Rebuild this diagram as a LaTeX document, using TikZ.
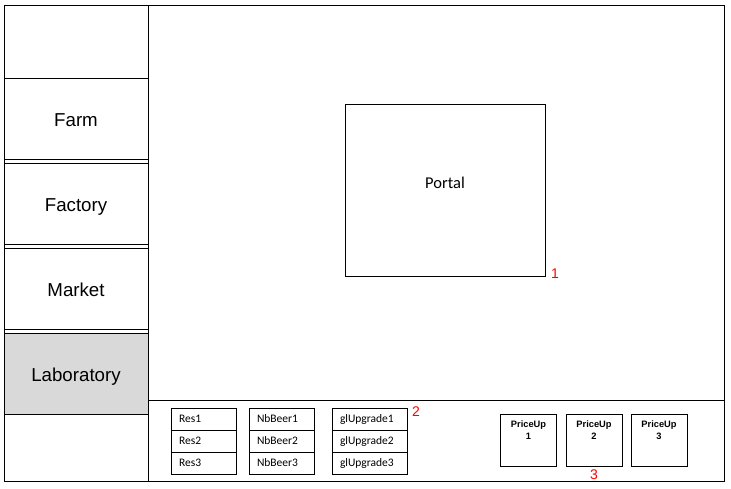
\documentclass[tikz,border=0pt]{standalone}
\usepackage{fontspec}
\setmainfont{Liberation Sans}
\newfontfamily\carlito{Carlito}
\usetikzlibrary{positioning}
\definecolor{labgray}{RGB}{217,217,217}

\begin{document}
\begin{tikzpicture}[x=1pt, y=-1pt, line width=1pt,
    cell/.style = {draw, minimum width=144pt, minimum height=81pt, inner sep=0pt, outer sep=0pt, text height=16pt, text depth=0pt, font=\fontsize{18.7}{22}\selectfont},
    field/.style = {draw, minimum height=22pt, inner xsep=8pt, inner ysep=0pt, align=left, font=\carlito\fontsize{11.5}{13}\selectfont},
    priceup/.style = {draw, minimum width=56pt, minimum height=52pt, inner sep=0pt},
    putext/.style = {anchor=north, yshift=-7pt, align=center, inner sep=0pt, font=\bfseries\fontsize{9.3}{12}\selectfont},
    num/.style = {text=red, inner sep=0pt, font=\fontsize{14}{16}\selectfont}]
    \useasboundingbox (0,0) rectangle (731,488);
    % frame
    \draw (4,5) rectangle (724,481);
    \draw (148,5) -- (148,481);
    \draw (148,400) -- (724,400);
    % menu
    \node[cell] (farm) at (76,118.5) {Farm};
    \node[cell, below=4pt of farm] (factory) {Factory};
    \node[cell, below=4pt of factory] (market) {Market};
    \node[cell, fill=labgray, below=4pt of market] (lab) {Laboratory};
    % portal
    \node[draw, minimum width=200pt, minimum height=172pt, text depth=14pt, font=\carlito\fontsize{16.5}{18}\selectfont] (portal) at (445,190) {Portal};
    \node[num, anchor=south west] (num1) at ([xshift=5pt, yshift=-2pt]portal.south east) {1};
    % resources
    \foreach \i in {1,2,3} {
        \node[field, text width=49pt] (res\i) at (203.5,{397+22*\i}) {Res\i};
        \node[field, text width=49pt] (beer\i) at (281.5,{397+22*\i}) {NbBeer\i};
        \node[field, text width=59pt] (upg\i) at (369.5,{398+21.7*\i}) {glUpgrade\i};
    }
    \node[num] (num2) at (416,412) {2};
    % price upgrades
    \foreach \i/\x in {1/528.5, 2/594, 3/659}
        \node[priceup, label={[putext]north:PriceUp\\\i}] (price\i) at (\x,440) {};
    \node[num, below=3pt of price2] (num3) {3};
\end{tikzpicture}
\end{document}
